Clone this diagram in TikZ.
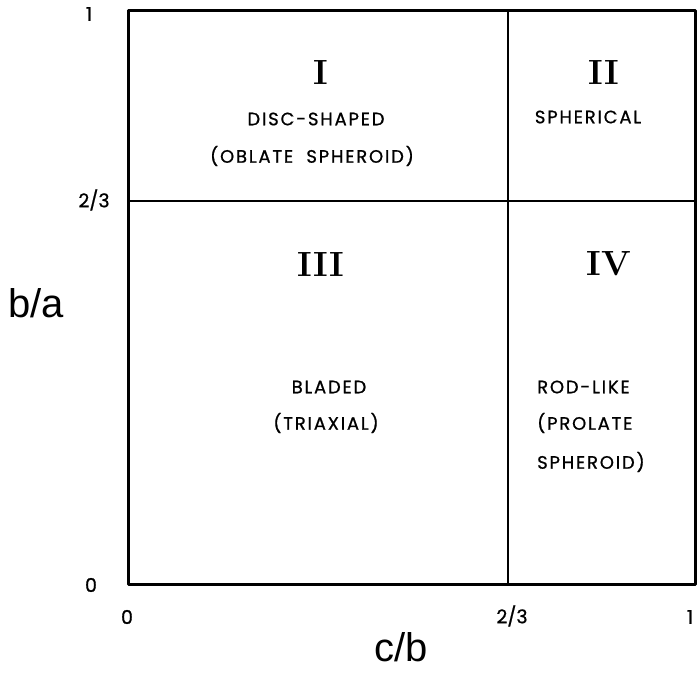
\documentclass[tikz,border=0pt]{standalone}
\usepackage{fontspec}
\setmainfont{Liberation Sans}
\newfontfamily\labfont[LetterSpace=10,FakeBold=0.8]{Poppins}
\newfontfamily\tickfont[FakeBold=0.8]{Poppins}
\newfontfamily\numfont{Latin Modern Roman}
\tikzset{
  frame/.style={line width=3pt, line join=round},
  divider/.style={line width=1.8pt},
  tick/.style={font=\tickfont\fontsize{19}{20}\selectfont, inner sep=0pt},
  axis/.style={font=\fontsize{40}{44}\selectfont, inner sep=0pt},
  roman/.style={font=\numfont\bfseries\fontsize{35}{36}\selectfont, inner sep=0pt},
  region/.style={font=\labfont\fontsize{18}{20}\selectfont, inner sep=0pt}
}
\begin{document}
\begin{tikzpicture}[x=1pt,y=-1pt]
\useasboundingbox (0,0) rectangle (697,674);
\fill[white] (0,0) rectangle (697,674);
% frame corners
\coordinate (tl) at (128,11);
\coordinate (tr) at (695,11);
\coordinate (bl) at (128,584);
\coordinate (br) at (695,584);
\coordinate (vt) at (508,11);
\coordinate (vb) at (508,584);
\coordinate (hl) at (128,201);
\coordinate (hr) at (695,201);
\draw[divider] (vt) -- (vb);
\draw[divider] (hl) -- (hr);
\draw[frame] (tl) -- (tr) -- (br) -- (bl) -- cycle;
% tick labels
\node[tick] (y1) at (89,14) {1};
\node[tick] (y23) at (94,200) {2/3};
\node[tick] (y0) at (91,585) {0};
\node[tick] (x0) at (127,617) {0};
\node[tick] (x23) at (512,616) {2/3};
\node[tick] (x1) at (690,617) {1};
% axis labels
\node[axis] (ba) at (36,303) {b/a};
\node[axis] (cb) at (401,647) {c/b};
% roman numerals
\node[roman] (r1) at (321,72) {I};
\node[roman] (r2) at (604,72) {II};
\node[roman] (r3) at (321,264) {III};
\node[roman] (r4) at (609,264) {IV};
% region texts
\node[region] (t1a) at (316,119) {DISC{-}SHAPED};
\node[region] (t1b) at (312,156) {(OBLATE\ \ SPHEROID)};
\node[region] (t2) at (588,117) {SPHERICAL};
\node[region] (t3a) at (329,387) {BLADED};
\node[region] (t3b) at (326,423) {(TRIAXIAL)};
\node[region, anchor=west] (t4a) at (537,387) {ROD{-}LIKE};
\node[region, anchor=west] (t4b) at (537,423) {(PROLATE};
\node[region, anchor=west] (t4c) at (537,462) {SPHEROID)};
\end{tikzpicture}
\end{document}
